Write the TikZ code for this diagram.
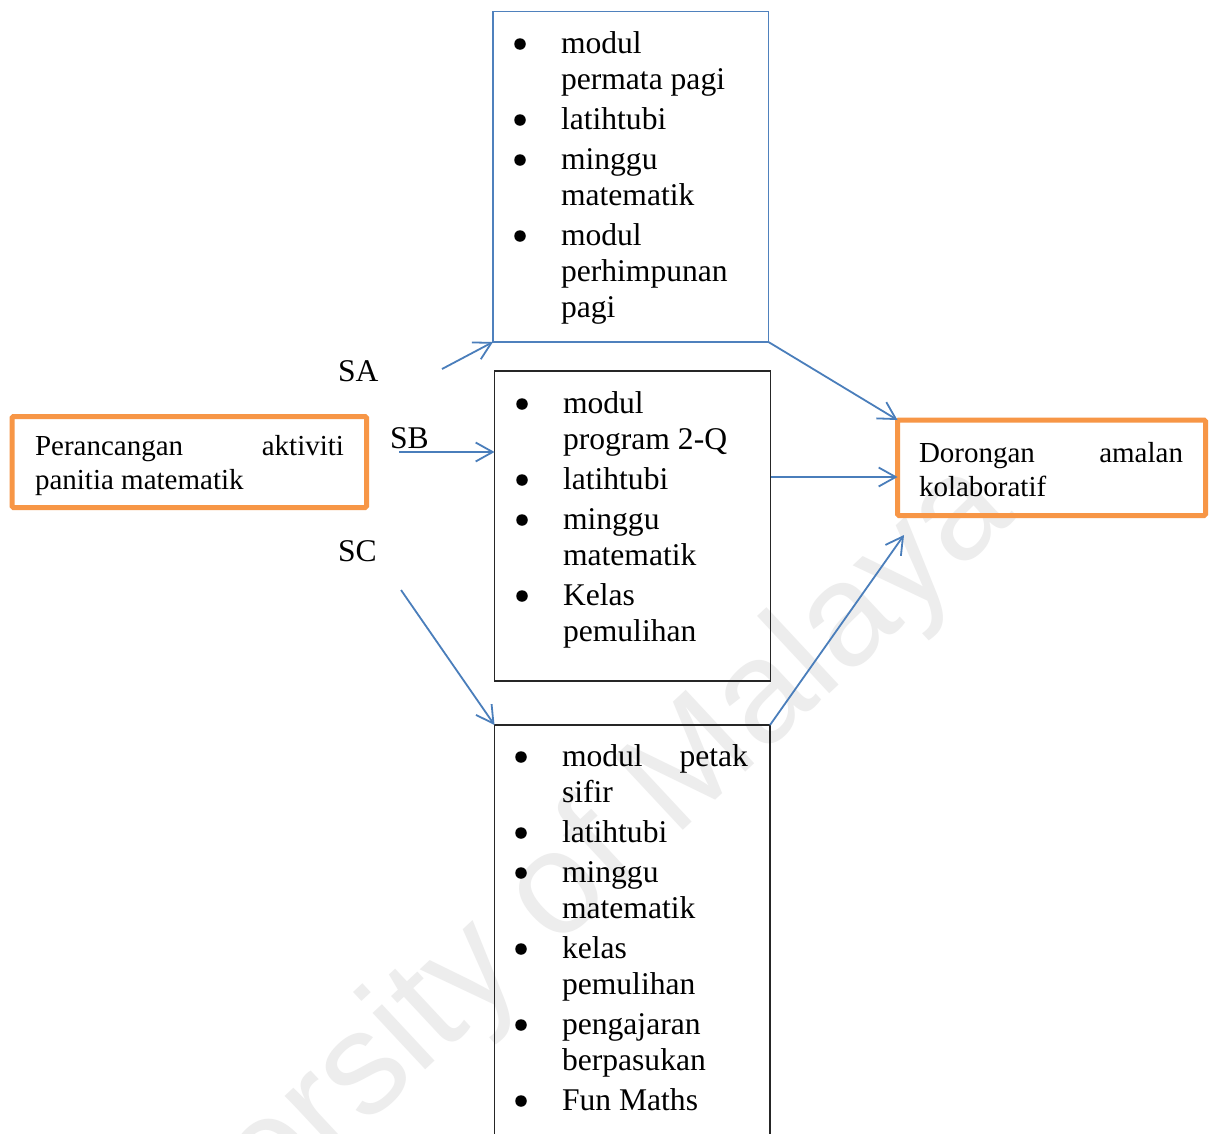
\documentclass[tikz,border=0pt]{standalone}
\usepackage{fontspec}
\setmainfont{Liberation Serif}
\newfontfamily\wmfont{Liberation Sans}
\usetikzlibrary{arrows.meta}
\definecolor{arrowblue}{HTML}{4A7EBB}
\definecolor{boxblue}{HTML}{4F81BD}
\definecolor{orangeb}{HTML}{F79646}
\begin{document}
\begin{tikzpicture}[x=1pt,y=-1pt,
  every node/.style={inner sep=0pt, outer sep=0pt},
  item/.style={anchor=base west, font=\fontsize{31.6}{36}\selectfont},
  boxtxt/.style={anchor=base west, font=\fontsize{29}{34}\selectfont},
  lbl/.style={anchor=base west, font=\fontsize{31.6}{36}\selectfont},
  dot/.style={circle, fill=black, minimum size=11.5pt},
  conn/.style={draw=arrowblue, line width=1.8pt,
    -{Straight Barb[length=17pt,width=19pt,line width=1.8pt]}},
  orangebox/.style={draw=orangeb, line width=5pt, rounded corners=1.5pt},
  bluebox/.style={draw=boxblue, line width=1.3pt},
  blackbox/.style={draw=black!85, line width=1.4pt},
  watermark/.style={text=black!7, font=\wmfont\fontsize{146}{146}\selectfont}
]
\useasboundingbox (0,0) rectangle (1214,1133);
\clip (0,0) rectangle (1214,1133);
\fill[white] (0,0) rectangle (1214,1133);

% faint watermark
\node[watermark, rotate=43] (wm) at (512,938) {University of Malaya};

% boxes
\node[orangebox, minimum width=354.5pt, minimum height=91pt] (src) at (189.25,462) {};
\node[orangebox, minimum width=308pt, minimum height=95.5pt] (dst) at (1051.5,467.75) {};
\node[bluebox, minimum width=275.5pt, minimum height=330.5pt] (top) at (630.75,176.75) {};
\node[blackbox, minimum width=276pt, minimum height=310pt] (mid) at (632.5,526) {};
\node[minimum width=275.5pt, minimum height=425pt] (bot) at (632.25,937.5) {};
\draw[blackbox] (bot.south west) -- (bot.north west) -- (bot.north east) -- (bot.south east);

% left box text
\node[boxtxt] (s1) at (35,455) {Perancangan};
\node[boxtxt, anchor=base east] (s2) at (344,455) {aktiviti};
\node[boxtxt] (s3) at (35,489) {panitia matematik};

% right box text
\node[boxtxt] (d1) at (919,462) {Dorongan};
\node[boxtxt, anchor=base east] (d2) at (1183,462) {amalan};
\node[boxtxt] (d3) at (919,496) {kolaboratif};

% labels
\node[lbl] (la) at (338,381.5) {SA};
\node[lbl] (lb) at (390,448) {SB};
\node[lbl] (lc) at (338,561.5) {SC};

% top box list
\node[dot] (ta) at (520,44) {};
\node[item] (t1) at (561,53) {modul};
\node[item] (t2) at (561,89) {permata pagi};
\node[dot] (tb) at (520,120) {};
\node[item] (t3) at (561,129) {latihtubi};
\node[dot] (tc) at (520,160) {};
\node[item] (t4) at (561,169) {minggu};
\node[item] (t5) at (561,205) {matematik};
\node[dot] (td) at (520,236) {};
\node[item] (t6) at (561,245) {modul};
\node[item] (t7) at (561,281) {perhimpunan};
\node[item] (t8) at (561,317) {pagi};

% middle box list
\node[dot] (ma) at (522,404) {};
\node[item] (m1) at (563,413) {modul};
\node[item] (m2) at (563,449) {program 2-Q};
\node[dot] (mb) at (522,480) {};
\node[item] (m3) at (563,489) {latihtubi};
\node[dot] (mc) at (522,520) {};
\node[item] (m4) at (563,529) {minggu};
\node[item] (m5) at (563,565) {matematik};
\node[dot] (md) at (522,596) {};
\node[item] (m6) at (563,605) {Kelas};
\node[item] (m7) at (563,641) {pemulihan};

% bottom box list
\node[dot] (ba) at (521,757) {};
\node[item] (b1) at (562,766) {modul};
\node[item, anchor=base east] (b1b) at (748,766) {petak};
\node[item] (b2) at (562,802) {sifir};
\node[dot] (bb) at (521,833) {};
\node[item] (b3) at (562,842) {latihtubi};
\node[dot] (bc) at (521,873) {};
\node[item] (b4) at (562,882) {minggu};
\node[item] (b5) at (562,918) {matematik};
\node[dot] (bd) at (521,949) {};
\node[item] (b6) at (562,958) {kelas};
\node[item] (b7) at (562,994) {pemulihan};
\node[dot] (be) at (521,1025) {};
\node[item] (b8) at (562,1034) {pengajaran};
\node[item] (b9) at (562,1070) {berpasukan};
\node[dot] (bf) at (521,1101) {};
\node[item] (b10) at (562,1110) {Fun Maths};

% connector free ends
\coordinate (saS) at (442,369);
\coordinate (sbS) at (399,452);
\coordinate (scS) at (401,590);
\coordinate (rowB) at (0,477);
\coordinate (bcE) at (904,535);

% connectors
\draw[conn] (saS) -- (top.south west);
\draw[conn] (sbS) -- (sbS -| mid.west);
\draw[conn] (scS) -- (bot.north west);
\draw[conn] (top.south east) -- (dst.north west);
\draw[conn] (mid.east |- rowB) -- (dst.west |- rowB);
\draw[conn] (bot.north east) -- (bcE);
\end{tikzpicture}
\end{document}
